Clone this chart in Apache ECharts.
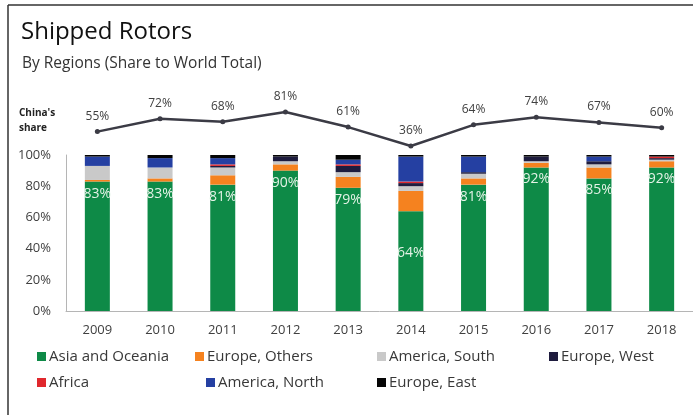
<!DOCTYPE html>
<html>
<head>
<meta charset="utf-8">
<script src="https://cdn.jsdelivr.net/npm/echarts@6/dist/echarts.min.js"></script>
<style>
  html, body { margin: 0; padding: 0; background: #fff; }
  #chart { width: 693px; height: 415px; }
</style>
</head>
<body>
<div id="chart"></div>
<script>
const years = ['2009', '2010', '2011', '2012', '2013', '2014', '2015', '2016', '2017', '2018']
const regionNames = ['Asia and Oceania', 'Europe, Others', 'America, South', 'Europe, West', 'Africa', 'America, North', 'Europe, East']
const regionColors = ['#0e8a47', '#f5821f', '#c9c9c9', '#1e1c3e', '#e0282d', '#2540a2', '#050505']

// share in % per region, bottom to top of each stack
const asiaOceania = [83, 83, 81, 90, 79, 64, 81, 92, 85, 92]
const europeOthers = [1, 2, 6, 4, 7, 13, 4, 3, 7, 4]
const americaSouth = [9, 7, 5, 2, 3, 3, 3, 1, 2, 1]
const europeWest = [0, 0, 1, 3, 4, 2, 1, 3, 2, 1]
const africa = [0, 0, 1, 0, 1, 1, 0, 0, 0, 1]
const americaNorth = [6, 6, 4, 0, 3, 16, 10, 0, 3, 0]
const europeEast = [1, 2, 2, 1, 3, 1, 1, 1, 1, 1]

const chinaShare = [55, 72, 68, 81, 61, 36, 64, 74, 67, 60]
const yTicks = [0, 20, 40, 60, 80, 100]

const regionValues = [asiaOceania, europeOthers, americaSouth, europeWest, africa, americaNorth, europeEast]
const textColor = '#404040'
const font = '"Open Sans", "Noto Sans", sans-serif'

const chart = echarts.init(document.getElementById('chart'))

const barSeries = regionNames.map((name, i) => {
  const s = {
    name,
    type: 'bar',
    stack: 'total',
    xAxisIndex: 0,
    yAxisIndex: 0,
    barWidth: 25,
    itemStyle: { color: regionColors[i] },
    data: regionValues[i]
  }
  if (i === 0) {
    // 2014 label sits lower in the original
    s.data = regionValues[i].map((v, k) => k === 5
      ? { value: v, label: { offset: [0, 30] } }
      : v)
    s.label = {
      show: true,
      position: 'insideTop',
      distance: 5,
      color: '#e4f2e6',
      fontSize: 14,
      fontFamily: font,
      formatter: (p) => p.value + '%'
    }
  }
  return s
})

// one legend per item so the columns line up like the original
const legendSpots = [
  [37, 349], [195, 349], [377, 349], [549, 349],
  [37, 375], [206, 375], [377, 375]
]
const legends = regionNames.map((name, i) => ({
  data: [name],
  left: legendSpots[i][0],
  top: legendSpots[i][1],
  padding: 0,
  itemWidth: 9,
  itemHeight: 9,
  itemGap: 0,
  icon: 'rect',
  textStyle: { color: '#383838', fontSize: 15, fontFamily: font, padding: [0, 0, 0, -2] },
  selectedMode: false
}))

chart.setOption({
  animation: false,
  textStyle: { fontFamily: font },
  title: [
    {
      text: 'Shipped Rotors',
      left: 16,
      top: 15,
      textStyle: { color: '#111', fontSize: 24, fontWeight: 'normal', fontFamily: font }
    },
    {
      text: 'By Regions (Share to World Total)',
      left: 17,
      top: 51,
      textStyle: { color: '#333', fontSize: 15.5, fontWeight: 'normal', fontFamily: font }
    }
  ],
  legend: legends,
  graphic: [
    { type: 'line', shape: { x1: 8, y1: 5, x2: 693, y2: 5 }, style: { stroke: '#333', lineWidth: 1.5 } },
    { type: 'line', shape: { x1: 8, y1: 5, x2: 8, y2: 415 }, style: { stroke: '#333', lineWidth: 1.5 } },
    {
      type: 'text',
      left: 19,
      top: 106,
      style: {
        text: "China's\nshare",
        fill: '#222',
        font: 'bold 10px "Open Sans", sans-serif',
        lineHeight: 15
      }
    }
  ],
  grid: [
    { left: 66, top: 155, width: 627, height: 156 },
    { left: 66, top: 97.6, width: 627, height: 75.6 }
  ],
  xAxis: [
    {
      type: 'category',
      gridIndex: 0,
      data: years,
      axisLine: { lineStyle: { color: '#b5b5b5' } },
      axisTick: { show: false },
      axisLabel: { color: textColor, fontSize: 13, margin: 13, fontFamily: font }
    },
    {
      type: 'category',
      gridIndex: 1,
      data: years,
      show: false
    }
  ],
  yAxis: [
    {
      type: 'value',
      gridIndex: 0,
      min: yTicks[0],
      max: yTicks[yTicks.length - 1],
      interval: yTicks[1] - yTicks[0],
      axisLine: { show: true, lineStyle: { color: '#b5b5b5' } },
      axisTick: { show: false },
      splitLine: { show: false },
      axisLabel: { color: textColor, fontSize: 13, margin: 15, fontFamily: font, formatter: '{value}%' }
    },
    {
      type: 'value',
      gridIndex: 1,
      min: 0,
      max: 100,
      show: false
    }
  ],
  series: [
    ...barSeries,
    {
      name: "China's share",
      type: 'line',
      xAxisIndex: 1,
      yAxisIndex: 1,
      data: chinaShare,
      symbol: 'circle',
      symbolSize: 5,
      lineStyle: { color: '#3b3b45', width: 2.5 },
      itemStyle: { color: '#3b3b45' },
      label: {
        show: true,
        position: 'top',
        distance: 7,
        color: textColor,
        fontSize: 12,
        fontFamily: font,
        formatter: (p) => p.value + '%'
      }
    }
  ]
})
</script>
</body>
</html>
